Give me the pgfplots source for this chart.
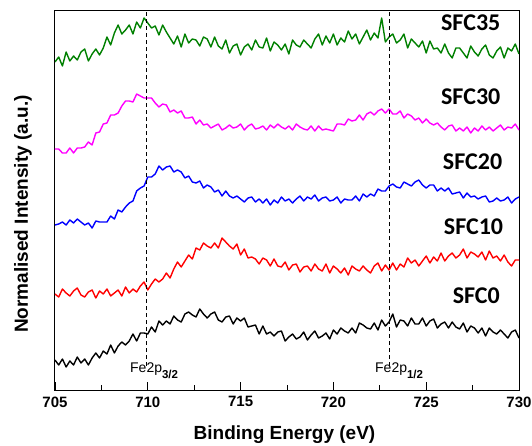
\documentclass[border=0pt]{standalone}
\usepackage{fontspec}
\setmainfont{Liberation Sans}
\newfontfamily\calfont{Carlito}
\usepackage{pgfplots}
\usepackage{pgfplotstable}
\pgfplotsset{compat=1.18}

\definecolor{sgreen}{RGB}{0,128,0}
\definecolor{smag}{RGB}{255,0,255}

% columns: binding energy, SFC0, SFC10, SFC20, SFC30, SFC35 (offset, arb. units)
\pgfplotstableread{
E     s0  s10  s20  s30  s35
705.0 30  96  165 241 328
705.2 25  93  166 241 333
705.4 31  101 168 237 324
705.6 23  97  165 237 338
705.8 29  94  170 242 329
706.0 25  99  167 237 334
706.2 33  102 171 242 330
706.4 27  95  168 242 338
706.6 31  93  165 243 341
706.8 25  98  167 248 329
707.0 32  100 162 245 336
707.2 37  92  169 257 341
707.4 32  99  168 258 335
707.6 39  96  168 266 342
707.8 36  101 168 267 353
708.0 45  94  174 275 345
708.2 37  97  171 275 357
708.4 44  100 180 277 365
708.6 48  94  178 284 356
708.8 45  103 183 289 360
709.0 49  97  187 289 365
709.2 56  101 189 288 356
709.4 49  98  199 296 368
709.6 57  104 202 294 362
709.8 57  108 204 292 372
710.0 56  100 213 292 367
710.2 63  106 213 292 362
710.4 58  111 216 287 364
710.6 69  108 224 283 355
710.8 65  111 220 286 365
711.0 69  117 223 285 358
711.2 66  112 224 278 352
711.4 74  121 218 280 346
711.6 70  128 220 277 354
711.8 68  123 218 279 343
712.0 76  129 212 272 356
712.2 78  135 214 272 347
712.4 75  131 208 273 351
712.6 73  142 207 266 350
712.8 81  140 209 270 344
713.0 76  147 202 265 353
713.2 72  144 205 266 351
713.4 76  142 203 262 343
713.6 78  147 198 264 353
713.8 70  142 200 266 344
714.0 68  152 194 260 341
714.2 73  148 199 262 350
714.4 74  144 194 265 337
714.6 66  141 192 262 344
714.8 72  146 194 263 346
715.0 69  135 191 266 335
715.2 72  141 188 260 343
715.4 63  132 192 264 346
715.6 64  133 193 266 340
715.8 65  131 188 261 350
716.0 56  126 191 262 343
716.2 64  132 187 264 342
716.4 56  130 191 260 352
716.6 58  124 185 265 339
716.8 54  131 190 262 348
717.0 58  124 187 266 345
717.2 59  123 193 263 340
717.4 49  128 189 261 346
717.6 53  120 191 264 336
717.8 56  125 187 260 350
718.0 51  126 191 266 345
718.2 53  118 194 263 343
718.4 58  123 189 261 350
718.6 50  124 193 260 346
718.8 55  119 191 264 342
719.0 59  126 195 259 351
719.2 52  121 189 264 356
719.4 54  119 192 260 345
719.6 57  126 193 261 354
719.8 51  117 189 260 347
720.0 60  124 190 259 356
720.2 56  121 193 266 345
720.4 62  117 187 266 352
720.6 59  122 191 265 348
720.8 57  115 190 271 359
721.0 62  124 190 269 351
721.2 57  121 194 270 356
721.4 67  119 189 275 346
721.6 65  124 196 270 353
721.8 62  120 193 276 360
722.0 61  117 196 278 350
722.2 67  124 194 275 357
722.4 60  127 201 279 352
722.6 70  119 199 281 372
722.8 64  125 199 277 348
723.0 68  120 204 281 353
723.2 76  127 206 276 356
723.4 63  120 203 276 347
723.6 70  126 202 279 350
723.8 69  123 208 272 356
724.0 64  132 206 276 342
724.2 72  127 204 274 351
724.4 66  130 208 270 347
724.6 66  124 210 272 343
724.8 72  129 205 267 349
725.0 64  134 202 271 337
725.2 69  127 205 267 349
725.4 71  133 205 265 341
725.6 62  129 199 267 342
725.8 66  137 202 263 337
726.0 68  129 199 260 346
726.2 62  134 202 264 337
726.4 68  137 196 265 332
726.6 63  132 197 259 342
726.8 61  135 198 262 342
727.0 67  141 192 259 337
727.2 58  132 197 263 332
727.4 64  138 193 257 344
727.6 62  136 194 262 338
727.8 57  133 191 259 334
728.0 62  138 193 264 341
728.2 54  130 194 260 345
728.4 62  139 188 263 335
728.6 58  132 189 259 332
728.8 56  134 192 262 339
729.0 60  129 189 265 343
729.2 56  135 190 260 332
729.4 52  128 193 263 342
729.6 58  124 187 262 339
729.8 60  130 191 266 346
730.0 52  130 193 260 336
}\xps

\begin{document}
\begin{tikzpicture}
\begin{axis}[
    scale only axis,
    width=464pt, height=379pt,
    xmin=705, xmax=730, ymin=0, ymax=379,
    xtick={705,710,...,730},
    minor x tick num=1,
    xtick pos=bottom,
    tick align=inside,
    ytick=\empty,
    major tick length=8pt,
    minor tick length=5pt,
    every tick/.style={black, line width=0.9pt},
    axis line style={line width=1pt},
    /pgf/number format/assume math mode=true,
    /pgf/number format/1000 sep={},
    xticklabel style={font=\bfseries\fontsize{15}{15}\selectfont, yshift=-3pt},
    xlabel={Binding Energy (eV)},
    xlabel style={font=\bfseries\fontsize{19}{19}\selectfont,
        at={(axis description cs:0.4946,-0.131)}, anchor=base},
    ylabel={Normalised Intensity (a.u.)},
    ylabel style={font=\bfseries\fontsize{19}{19}\selectfont,
        at={(axis description cs:-0.0582,0.464)}, anchor=base},
    every axis plot/.append style={line width=1.4pt, line join=round},
]
\addplot[black] table[x=E, y=s0] {\xps};
\addplot[red] table[x=E, y=s10] {\xps};
\addplot[blue] table[x=E, y=s20] {\xps};
\addplot[smag] table[x=E, y=s30] {\xps};
\addplot[sgreen] table[x=E, y=s35] {\xps};

\addplot[black, line width=0.8pt, dash pattern=on 4pt off 3pt] coordinates {(709.95,24) (709.95,379)};
\addplot[black, line width=0.8pt, dash pattern=on 4pt off 3pt] coordinates {(723.0,24) (723.0,379)};

\node[anchor=base west, inner sep=0pt, font=\fontsize{14}{14}\selectfont] at (axis cs:709.04,18)
    {Fe2p\raisebox{-6pt}{\bfseries\fontsize{11.5}{11.5}\selectfont 3/2}};
\node[anchor=base west, inner sep=0pt, font=\fontsize{14}{14}\selectfont] at (axis cs:722.24,18)
    {Fe2p\raisebox{-6pt}{\bfseries\fontsize{11.5}{11.5}\selectfont 1/2}};

\node[font=\calfont\bfseries\fontsize{24}{24}\selectfont] at (axis cs:727.4,367) {SFC35};
\node[font=\calfont\bfseries\fontsize{24}{24}\selectfont] at (axis cs:727.4,293) {SFC30};
\node[font=\calfont\bfseries\fontsize{24}{24}\selectfont] at (axis cs:727.5,228) {SFC20};
\node[font=\calfont\bfseries\fontsize{24}{24}\selectfont] at (axis cs:727.55,163) {SFC10};
\node[font=\calfont\bfseries\fontsize{24}{24}\selectfont] at (axis cs:727.7,94) {SFC0};

\coordinate (bl) at (rel axis cs:0,0);
\coordinate (tr) at (rel axis cs:1,1);
\end{axis}
\pgfresetboundingbox
\path ([xshift=-55pt,yshift=-55pt]bl) rectangle ([xshift=13pt,yshift=11pt]tr);
\end{tikzpicture}
\end{document}
